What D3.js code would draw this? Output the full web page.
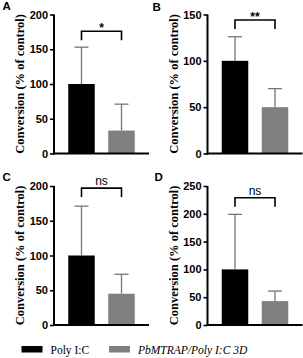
<!DOCTYPE html>
<html>
<head>
<meta charset="utf-8">
<script src="https://cdn.jsdelivr.net/npm/d3@7"></script>
<style>
  body { margin: 0; background: #fff; }
  svg { display: block; }
</style>
</head>
<body>
<svg id="chart" width="303" height="358"></svg>
<script>
// data
var groups = ["Poly I:C", "PbMTRAP/Poly I:C 3D"];
var panels = ["A", "B", "C", "D"];
var means = [[100, 33], [100, 50], [100, 45], [100, 43]];
var errors = [[53, 38], [26, 20], [71, 28], [99, 18]];
var yMax = [200, 150, 200, 250];
var yTicks = [[0, 50, 100, 150, 200], [0, 50, 100, 150], [0, 50, 100, 150, 200], [0, 50, 100, 150, 200, 250]];
var sigLabels = ["*", "**", "ns", "ns"];
var sigHeights = [176, 144, 197, 229];

var colors = ["#000000", "#808080"];
var errColor = "#767676";

var svg = d3.select("#chart");

// panel origins: position of the y axis line and x axis line
var origins = [
  {ax: 54, top: 14.5, bottom: 153.5},
  {ax: 207.5, top: 14.5, bottom: 153.5},
  {ax: 54, top: 186, bottom: 325},
  {ax: 207.5, top: 186, bottom: 325}
];
var labelPos = [[2.5, 10], [152.5, 10.5], [2.5, 181], [154.5, 181]];

panels.forEach(function(p, i){
  var o = origins[i];
  var g = svg.append("g");

  var y = d3.scaleLinear().domain([0, yMax[i]]).range([o.bottom, o.top]);
  var x = d3.scaleBand().domain(groups).range([o.ax, o.ax + 95])
            .paddingInner(0.3375).paddingOuter(0.356);

  // bars
  g.selectAll("rect.bar").data(groups).enter().append("rect")
    .attr("x", function(d){ return x(d); })
    .attr("y", function(d, j){ return y(means[i][j]); })
    .attr("width", x.bandwidth())
    .attr("height", function(d, j){ return o.bottom - y(means[i][j]); })
    .attr("fill", function(d, j){ return colors[j]; });

  // error bars (upper only)
  groups.forEach(function(d, j){
    var cx = x(d) + x.bandwidth() / 2;
    var top = y(means[i][j] + errors[i][j]);
    g.append("line")
      .attr("x1", cx).attr("x2", cx)
      .attr("y1", y(means[i][j])).attr("y2", top)
      .attr("stroke", errColor).attr("stroke-width", 1.3);
    g.append("line")
      .attr("x1", cx - 7).attr("x2", cx + 7)
      .attr("y1", top).attr("y2", top)
      .attr("stroke", errColor).attr("stroke-width", 1.3);
  });

  // axes
  var yAxis = d3.axisLeft(y).tickValues(yTicks[i]).tickSize(4).tickPadding(2);
  var ya = g.append("g").attr("transform", "translate(" + o.ax + ",0)").call(yAxis);
  ya.select(".domain").attr("stroke-width", 2).attr("d", "M0," + (o.bottom + 1) + "V" + o.top);
  ya.selectAll(".tick line").attr("stroke-width", 1.6);
  ya.selectAll(".tick text")
    .attr("font-family", "Liberation Sans, Arial, sans-serif")
    .attr("font-weight", "bold").attr("font-size", 11).attr("fill", "#000");

  g.append("line")
    .attr("x1", o.ax - 1).attr("x2", o.ax + 95)
    .attr("y1", o.bottom).attr("y2", o.bottom)
    .attr("stroke", "#000").attr("stroke-width", 2);

  // y title
  g.append("text")
    .attr("transform", "translate(" + (o.ax - 30) + "," + ((o.top + o.bottom) / 2) + ") rotate(-90)")
    .attr("text-anchor", "middle")
    .attr("font-family", "Liberation Serif, Times New Roman, serif")
    .attr("font-weight", "bold").attr("font-size", 12.5)
    .text("Conversion (% of control)");

  // significance bracket
  var c0 = x(groups[0]) + x.bandwidth() / 2;
  var c1 = x(groups[1]) + x.bandwidth() / 2;
  var by = y(sigHeights[i]);
  g.append("path")
    .attr("d", "M" + c0 + "," + (by + 9) + "V" + by + "H" + c1 + "V" + (by + 9))
    .attr("fill", "none").attr("stroke", "#000").attr("stroke-width", 1.6);
  var isStar = sigLabels[i] !== "ns";
  g.append("text")
    .attr("x", (c0 + c1) / 2)
    .attr("y", isStar ? by + 1 : by - 3)
    .attr("text-anchor", "middle")
    .attr("font-family", "Liberation Sans, Arial, sans-serif")
    .attr("font-weight", isStar ? "bold" : "normal")
    .attr("font-size", isStar ? 12 : 12)
    .text(sigLabels[i]);

  // panel label
  g.append("text")
    .attr("x", labelPos[i][0]).attr("y", labelPos[i][1])
    .attr("font-family", "Liberation Sans, Arial, sans-serif")
    .attr("font-weight", "bold").attr("font-size", 11.5)
    .text(p);
});

// legend
var legX = [21.5, 109];
var leg = svg.append("g");
groups.forEach(function(d, j){
  leg.append("rect")
    .attr("x", legX[j]).attr("y", 346)
    .attr("width", 21).attr("height", 6.5)
    .attr("fill", colors[j]);
  leg.append("text")
    .attr("x", legX[j] + 29).attr("y", 354)
    .attr("font-family", "Liberation Serif, Times New Roman, serif")
    .attr("font-size", 11.5)
    .attr("font-style", j === 1 ? "italic" : "normal")
    .text(j === 1 ? "PbMTRAP/Poly I:C 3D" : d);
});
</script>
</body>
</html>
